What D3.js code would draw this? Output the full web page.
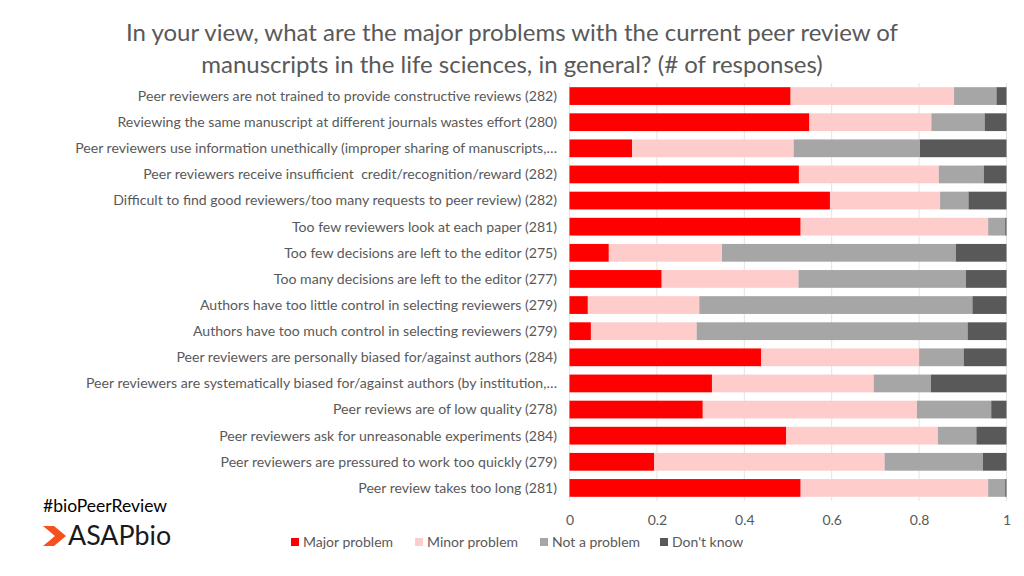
<!DOCTYPE html>
<html><head><meta charset="utf-8">
<script src="https://cdn.jsdelivr.net/npm/d3@7"></script>
<style>body{margin:0;background:#fff}svg{display:block}text{font-family:Lato,"Open Sans",sans-serif}</style>
</head><body>
<svg id="c" width="1024" height="576"></svg>
<script>
const categories = [
  "Peer reviewers are not trained to provide constructive reviews (282)",
  "Reviewing the same manuscript at different journals wastes effort (280)",
  "Peer reviewers use information unethically (improper sharing of manuscripts,…",
  "Peer reviewers receive insufficient  credit/recognition/reward (282)",
  "Difficult to find good reviewers/too many requests to peer review) (282)",
  "Too few reviewers look at each paper (281)",
  "Too few decisions are left to the editor (275)",
  "Too many decisions are left to the editor (277)",
  "Authors have too little control in selecting reviewers (279)",
  "Authors have too much control in selecting reviewers (279)",
  "Peer reviewers are personally biased for/against authors (284)",
  "Peer reviewers are systematically biased for/against authors (by institution,…",
  "Peer reviews are of low quality (278)",
  "Peer reviewers ask for unreasonable experiments (284)",
  "Peer reviewers are pressured to work too quickly (279)",
  "Peer review takes too long (281)"
];
const seriesNames = ["Major problem", "Minor problem", "Not a problem", "Don't know"];
const major   = [0.506,0.549,0.143,0.525,0.596,0.529,0.090,0.211,0.042,0.049,0.439,0.326,0.305,0.496,0.194,0.529];
const minor   = [0.374,0.279,0.370,0.320,0.252,0.429,0.259,0.313,0.255,0.242,0.361,0.370,0.490,0.347,0.527,0.429];
const notProb = [0.097,0.122,0.289,0.103,0.065,0.039,0.535,0.383,0.625,0.620,0.102,0.131,0.170,0.088,0.225,0.039];
const dontKnow= [0.023,0.050,0.198,0.052,0.087,0.003,0.116,0.093,0.078,0.089,0.098,0.173,0.035,0.069,0.054,0.003];
const xTicks = [0, 0.2, 0.4, 0.6, 0.8, 1];
const colors = ["#FF0000", "#FFCCCC", "#A6A6A6", "#595959"];
const titleLines = ["In your view, what are the major problems with the current peer review of",
                    "manuscripts in the life sciences, in general? (# of responses)"];

const svg = d3.select("#c");
const table = categories.map((c,i)=>({cat:c, "Major problem":major[i], "Minor problem":minor[i], "Not a problem":notProb[i], "Don't know":dontKnow[i]}));
const stack = d3.stack().keys(seriesNames)(table);

const x = d3.scaleLinear().domain([0,1]).range([569.5, 1006.5]);
const y = d3.scaleBand().domain(categories).range([83, 501]).paddingInner(0.32).paddingOuter(0.16);
const color = d3.scaleOrdinal().domain(seriesNames).range(colors);

// title
svg.append("g").selectAll("text").data(titleLines).join("text")
  .attr("x", 512).attr("y", (d,i)=>41 + i*32)
  .attr("text-anchor","middle").attr("fill","#595959").attr("font-size", 24)
  .text(d=>d);

// grid
svg.append("g").selectAll("line").data(xTicks).join("line")
  .attr("x1", d=>x(d)).attr("x2", d=>x(d)).attr("y1", 83).attr("y2", 501)
  .attr("stroke", "#E3E3E3").attr("stroke-width", 1);

// bars
svg.append("g").selectAll("g").data(stack).join("g")
  .attr("fill", d=>color(d.key))
  .selectAll("rect").data(d=>d).join("rect")
  .attr("x", d=>x(d[0])).attr("width", d=>x(d[1])-x(d[0]))
  .attr("y", d=>y(d.data.cat)).attr("height", y.bandwidth());

// y labels
svg.append("g").selectAll("text").data(categories).join("text")
  .attr("x", 557).attr("y", d=>y(d)+y.bandwidth()/2)
  .attr("dy","0.35em").attr("text-anchor","end").attr("fill","#595959")
  .attr("font-size", 14.1).style("white-space","pre")
  .text(d=>d);

// x axis
const xa = svg.append("g").attr("transform","translate(0,512)")
  .call(d3.axisBottom(x).tickValues(xTicks).tickSize(0).tickFormat(d=>d===0?"0":d===1?"1":d3.format(".1f")(d)));
xa.select(".domain").remove();
xa.selectAll("text").attr("fill","#595959").attr("font-size",14).attr("font-family","Lato");

// legend
const leg = svg.append("g").selectAll("g").data(seriesNames).join("g")
  .attr("transform",(d,i)=>`translate(${[291,415,540,660][i]},542)`);
leg.append("rect").attr("x",0).attr("y",-4).attr("width",8).attr("height",8).attr("fill",d=>color(d));
leg.append("text").attr("x",12).attr("y",0).attr("dy","0.35em").attr("fill","#595959").attr("font-size",14).text(d=>d);

// branding
svg.append("text").attr("x",43).attr("y",512).attr("font-size",17.5).attr("fill","#000").text("#bioPeerReview");
svg.append("path").attr("d","M43,526 L54,526 L66,536 L54,546 L43,546 L55,536 Z").attr("fill","#F5501E");
svg.append("text").attr("x",68).attr("y",545).attr("font-size",26.8).attr("fill","#1a1a1a")
  .attr("font-family","'Liberation Sans',Arial,sans-serif").text("ASAPbio");
</script>
</body></html>
